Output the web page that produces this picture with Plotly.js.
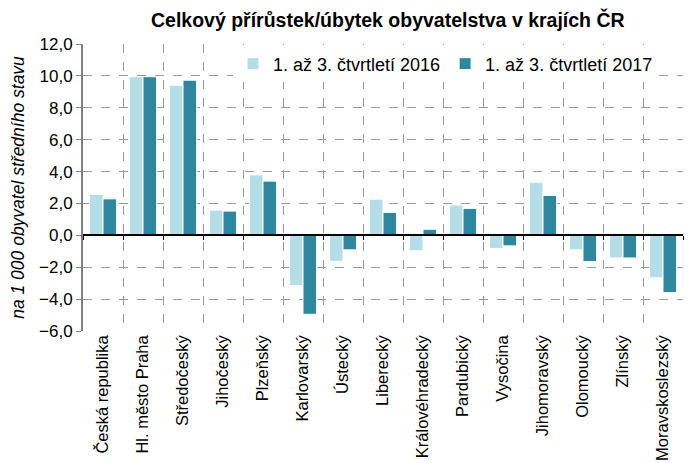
<!DOCTYPE html>
<html>
<head>
<meta charset="utf-8">
<script src="https://cdn.plot.ly/plotly-3.0.1.min.js"></script>
<style>html,body{margin:0;padding:0;background:#fff;}#chart{width:693px;height:463px;}</style>
</head>
<body>
<div id="chart"></div>
<script>
const categories = ["Česká republika","Hl. město Praha","Středočeský","Jihočeský","Plzeňský","Karlovarský","Ústecký","Liberecký","Královéhradecký","Pardubický","Vysočina","Jihomoravský","Olomoucký","Zlínský","Moravskoslezský"];
const series2016 = [2.56, 9.95, 9.42, 1.58, 3.79, -3.15, -1.63, 2.27, -0.97, 1.90, -0.82, 3.33, -0.91, -1.42, -2.66];
const series2017 = [2.29, 9.95, 9.73, 1.52, 3.40, -4.95, -0.91, 1.44, 0.38, 1.69, -0.66, 2.50, -1.65, -1.42, -3.59];
const seriesNames = ["1. až 3. čtvrtletí 2016", "1. až 3. čtvrtletí 2017"];
const yTicks = [-6, -4, -2, 0, 2, 4, 6, 8, 10, 12];
const boundaries = categories.map((c, i) => i - 0.5).concat([categories.length - 0.5]);

const font = "Liberation Sans, Arial, sans-serif";
const traces = [
  {type: "bar", name: seriesNames[0], x: categories, y: series2016,
   marker: {color: "#b5dde7", line: {color: "#ffffff", width: 1}}, hoverinfo: "y"},
  {type: "bar", name: seriesNames[1], x: categories, y: series2017,
   marker: {color: "#2e879e", line: {color: "#ffffff", width: 1}}, hoverinfo: "y"},
  {type: "scatter", x: [0], y: [0], xaxis: "x2", mode: "markers", marker: {opacity: 0}, showlegend: false, hoverinfo: "skip"}
];
const layout = {
  width: 693, height: 463,
  margin: {l: 83, r: 10, t: 44, b: 132},
  paper_bgcolor: "#fff", plot_bgcolor: "#fff",
  separators: ",.",
  font: {family: font, size: 16, color: "#000"},
  title: {text: "<b>Celkový přírůstek/úbytek obyvatelstva v krajích ČR</b>", x: 0.508, xref: "paper", y: 0.957, yanchor: "middle", font: {family: font, size: 19.5, color: "#000"}},
  barmode: "group", bargap: 0.32, bargroupgap: 0,
  xaxis: {type: "category", range: [-0.5, categories.length - 0.5], tickangle: -90, showgrid: false,
          ticks: "", showline: false, zeroline: false, tickfont: {family: font, size: 16.5}},
  xaxis2: {overlaying: "x", anchor: "free", position: 1/3, range: [-0.5, categories.length - 0.5],
           tickmode: "array", tickvals: boundaries, showticklabels: false,
           showgrid: true, gridcolor: "#9a9a9a", griddash: "dash", gridwidth: 1,
           showline: true, linecolor: "#000", linewidth: 2, ticks: "outside", ticklen: 4, tickcolor: "#000", tickwidth: 1,
           zeroline: false},
  yaxis: {range: [-6, 12], tickmode: "array", tickvals: yTicks, tickformat: ".1f",
          showgrid: true, gridcolor: "#9a9a9a", griddash: "dash", gridwidth: 1,
          zeroline: false, showline: true, linecolor: "#808080", linewidth: 2,
          ticks: "outside", ticklen: 5, tickcolor: "#808080",
          tickfont: {family: font, size: 17},
          title: {text: "<i>na 1 000 obyvatel středního stavu</i>", font: {family: font, size: 17.5}, standoff: 10}},
  legend: {orientation: "h", x: 0.25, xanchor: "left", y: 0.995, yanchor: "top", bgcolor: "#fff",
           font: {family: font, size: 18}, itemwidth: 30, tracegroupgap: 0, traceorder: "normal"},
  showlegend: true
};
Plotly.newPlot("chart", traces, layout, {displayModeBar: false, staticPlot: true});
</script>
</body>
</html>
